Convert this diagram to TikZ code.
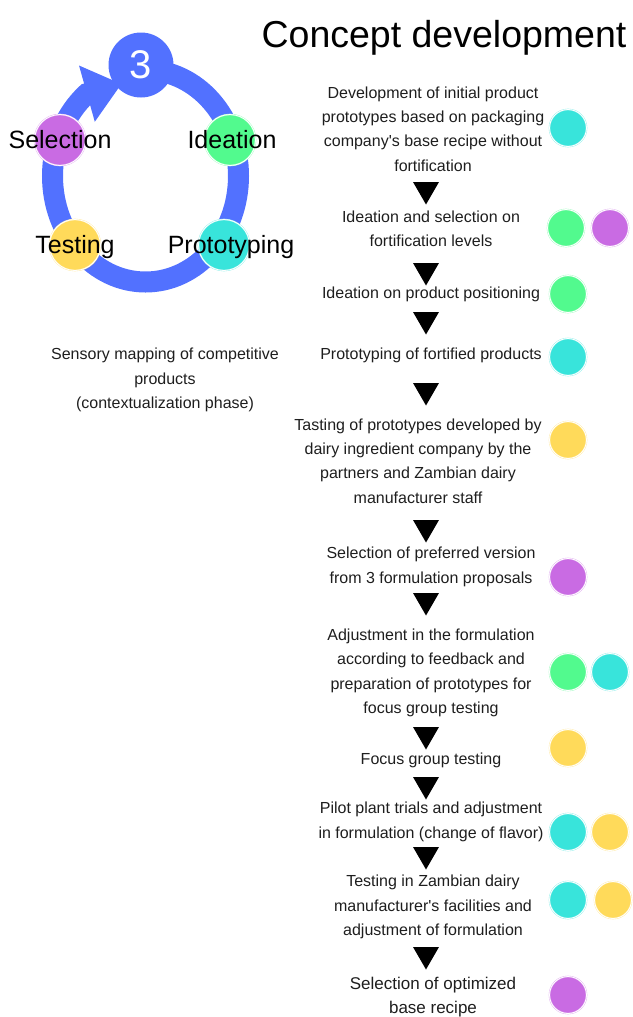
\documentclass[tikz,border=0pt]{standalone}
\usepackage{fontspec}
\setmainfont{Liberation Sans}
\usetikzlibrary{arrows.meta,shapes.geometric}

\definecolor{ringblue}{HTML}{5271FF}
\definecolor{ideagreen}{HTML}{52FA8E}
\definecolor{protocyan}{HTML}{38E4DB}
\definecolor{testyellow}{HTML}{FFDA5A}
\definecolor{selpurple}{HTML}{C96BE3}
\definecolor{textgray}{HTML}{1E1E1E}

\begin{document}
\begin{tikzpicture}[x=1pt,y=-1pt,
  ring/.style={line width=21pt, draw=ringblue},
  dot/.style={circle, fill=#1, draw=#1!55, double=white, double distance=0.8pt, minimum size=37pt, inner sep=0pt},
  bigdot/.style={dot=#1, minimum size=51pt},
  steptext/.style={align=center, inner sep=0pt, text=textgray, font=\fontsize{16}{24.3}\selectfont},
  cyclabel/.style={inner sep=0pt, text=black, font=\fontsize{25}{30}\selectfont},
  downtri/.style={regular polygon, regular polygon sides=3, shape border rotate=180, fill=black, minimum size=30pt, inner sep=0pt, outer sep=0pt, anchor=north}
]
\useasboundingbox (0,0) rectangle (632,1017);

% cycle
\draw[ring, -{Triangle[width=56pt,length=36pt]}] (145.5,70) arc[start angle=-90, end angle=231, x radius=93, y radius=106] -- ++(34.6,-9.7);
\node[circle, fill=ringblue, minimum size=65pt, inner sep=0pt, text=white, font=\fontsize{40}{40}\selectfont] (three) at (141,65) {3};

\node[bigdot=selpurple] (selDot) at (60,140) {};
\node[bigdot=ideagreen] (ideaDot) at (230,140) {};
\node[bigdot=testyellow] (testDot) at (75,245) {};
\node[bigdot=protocyan] (protoDot) at (224,245) {};

\node[cyclabel] (selLabel) at (60,140) {Selection};
\node[cyclabel] (ideaLabel) at (232,140) {Ideation};
\node[cyclabel] (testLabel) at (75,247) {Testing};
\node[cyclabel] (protoLabel) at (231,247) {Prototyping};

% title and side note
\node[inner sep=0pt, anchor=base, font=\fontsize{37.5}{40}\selectfont] (title) at (444,47) {Concept development};
\node[steptext] (sensory) at (165,380) {Sensory mapping of competitive\\products\\(contextualization phase)};

% steps
\node[steptext] (s1) at (433,129) {Development of initial product\\prototypes based on packaging\\company\textquotesingle s base recipe without\\fortification};
\node[steptext] (s2) at (431,229) {Ideation and selection on\\fortification levels};
\node[steptext] (s3) at (431,294) {Ideation on product positioning};
\node[steptext] (s4) at (431,355) {Prototyping of fortified products};
\node[steptext] (s5) at (418,461) {Tasting of prototypes developed by\\dairy ingredient company by the\\partners and Zambian dairy\\manufacturer staff};
\node[steptext] (s6) at (431,567) {Selection of preferred version\\from 3 formulation proposals};
\node[steptext] (s7) at (431,673) {Adjustment in the formulation\\according to feedback and\\preparation of prototypes for\\focus group testing};
\node[steptext] (s8) at (431,760) {Focus group testing};
\node[steptext] (s9) at (431,822) {Pilot plant trials and adjustment\\in formulation (change of flavor)};
\node[steptext] (s10) at (433,907) {Testing in Zambian dairy\\manufacturer\textquotesingle s facilities and\\adjustment of formulation};
\node[steptext, font=\fontsize{17}{23.5}\selectfont] (s11) at (433,997) {Selection of optimized\\base recipe};

% arrows between steps
\node[downtri] (t1) at (426,182) {};
\node[downtri] (t2) at (426,263) {};
\node[downtri] (t3) at (426,312) {};
\node[downtri] (t4) at (426,383) {};
\node[downtri] (t5) at (426,520) {};
\node[downtri] (t6) at (426,593) {};
\node[downtri] (t7) at (426,727) {};
\node[downtri] (t8) at (426,777) {};
\node[downtri] (t9) at (426,847) {};
\node[downtri] (t10) at (426,947) {};

% phase dots
\node[dot=protocyan] (d1) at (568,128) {};
\node[dot=ideagreen] (d2a) at (566,228) {};
\node[dot=selpurple] (d2b) at (610,228) {};
\node[dot=ideagreen] (d3) at (568,294) {};
\node[dot=protocyan] (d4) at (568,357) {};
\node[dot=testyellow] (d5) at (568,440) {};
\node[dot=selpurple] (d6) at (568,577) {};
\node[dot=ideagreen] (d7a) at (568,672) {};
\node[dot=protocyan] (d7b) at (610,672) {};
\node[dot=testyellow] (d8) at (568,748) {};
\node[dot=protocyan] (d9a) at (568,832) {};
\node[dot=testyellow] (d9b) at (610,832) {};
\node[dot=protocyan] (d10a) at (568,900) {};
\node[dot=testyellow] (d10b) at (613,900) {};
\node[dot=selpurple] (d11) at (568,995) {};

\end{tikzpicture}
\end{document}
